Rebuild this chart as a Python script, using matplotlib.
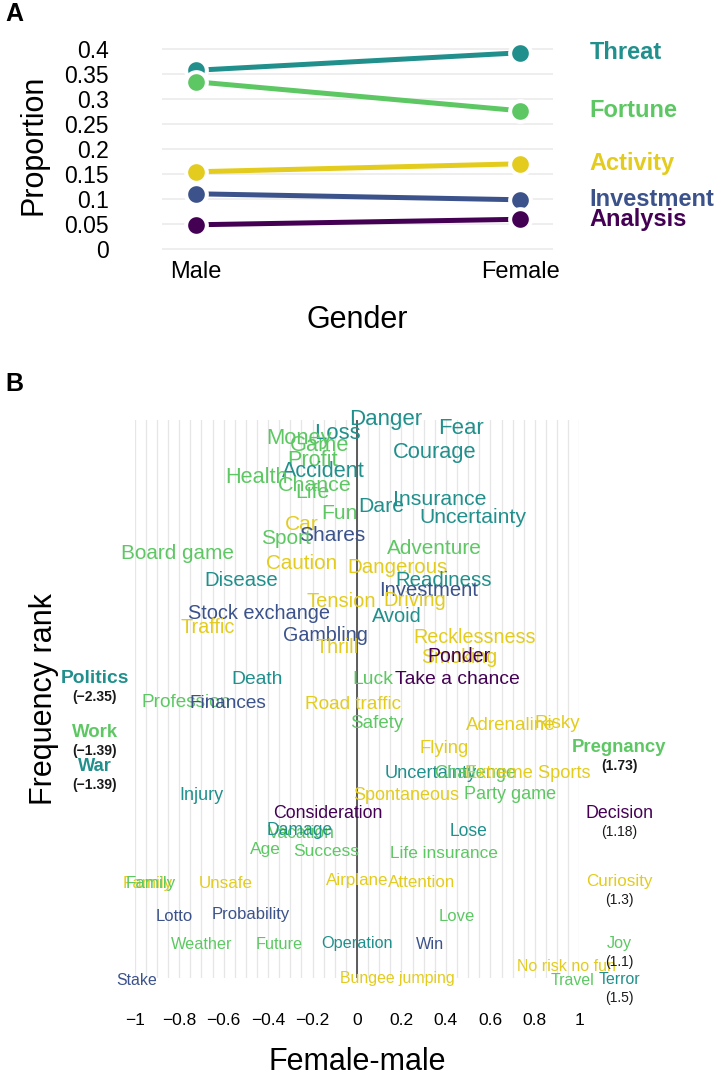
import numpy as np
import matplotlib.pyplot as plt

plt.rcParams['font.family'] = ['Liberation Sans', 'DejaVu Sans']

# ---- panel A: proportion of each category by gender
genders = ["Male", "Female"]
categories = ["Threat", "Fortune", "Activity", "Investment", "Analysis"]
cat_colors = ["#21908C", "#5DC863", "#E3CC1E", "#3B528B", "#440154"]
prop_male = [0.358, 0.335, 0.155, 0.111, 0.049]
prop_female = [0.393, 0.277, 0.171, 0.099, 0.060]

# ---- panel B: words, category, female-male difference, frequency rank
words = ["Danger", "Fear", "Loss", "Money", "Game", "Courage", "Profit", "Accident",
         "Health", "Chance", "Life", "Insurance", "Dare", "Fun", "Uncertainty", "Car",
         "Shares", "Sport", "Adventure", "Board game", "Caution", "Dangerous", "Disease",
         "Readiness", "Investment", "Driving", "Tension", "Stock exchange", "Avoid",
         "Traffic", "Gambling", "Recklessness", "Thrill", "Smoking", "Ponder", "Death",
         "Luck", "Take a chance", "Profession", "Finances", "Road traffic", "Safety",
         "Adrenaline", "Risky", "Flying", "Uncertainty", "Challenge", "Extreme Sports",
         "Injury", "Spontaneous", "Party game", "Consideration", "Vacation", "Damage",
         "Lose", "Age", "Success", "Life insurance", "Family", "Family", "Unsafe",
         "Airplane", "Attention", "Lotto", "Probability", "Love", "Weather", "Future",
         "Operation", "Win", "No risk no fun", "Stake", "Bungee jumping", "Travel",
         "Politics", "Work", "War", "Pregnancy", "Decision", "Curiosity", "Joy", "Terror"]
word_cat = ["Threat", "Threat", "Threat", "Fortune", "Fortune", "Threat", "Fortune", "Threat",
            "Fortune", "Fortune", "Fortune", "Threat", "Threat", "Fortune", "Threat", "Activity",
            "Investment", "Fortune", "Fortune", "Fortune", "Activity", "Activity", "Threat",
            "Threat", "Investment", "Activity", "Activity", "Investment", "Threat",
            "Activity", "Investment", "Activity", "Activity", "Activity", "Analysis", "Threat",
            "Fortune", "Analysis", "Fortune", "Investment", "Activity", "Fortune",
            "Activity", "Activity", "Activity", "Threat", "Fortune", "Activity",
            "Threat", "Activity", "Fortune", "Analysis", "Fortune", "Threat",
            "Threat", "Fortune", "Fortune", "Fortune", "Activity", "Fortune", "Activity",
            "Activity", "Activity", "Investment", "Investment", "Fortune", "Fortune", "Fortune",
            "Threat", "Investment", "Activity", "Investment", "Activity", "Fortune",
            "Threat", "Fortune", "Threat", "Fortune", "Analysis", "Activity", "Fortune", "Threat"]
diff = [0.13, 0.47, -0.09, -0.26, -0.17, 0.35, -0.20, -0.15,
        -0.45, -0.19, -0.20, 0.37, 0.11, -0.08, 0.52, -0.25,
        -0.11, -0.32, 0.35, -0.81, -0.25, 0.18, -0.52,
        0.39, 0.32, 0.26, -0.07, -0.44, 0.18,
        -0.67, -0.14, 0.53, -0.09, 0.46, 0.46, -0.45,
        0.07, 0.45, -0.77, -0.58, -0.02, 0.09,
        0.69, 0.90, 0.39, 0.33, 0.53, 0.77,
        -0.70, 0.22, 0.69, -0.13, -0.25, -0.26,
        0.50, -0.41, -0.14, 0.39, -0.94, -0.93, -0.59,
        0.00, 0.29, -0.82, -0.48, 0.45, -0.70, -0.35,
        0.00, 0.33, 0.94, -0.99, 0.18, 0.97,
        -2.35, -1.39, -1.39, 1.73, 1.18, 1.3, 1.1, 1.5]
rank = [0.9, 1.8, 2.3, 2.8, 3.5, 4.2, 5.0, 6.1,
        6.7, 7.5, 8.2, 8.9, 9.6, 10.3, 10.7, 11.4,
        12.5, 12.8, 13.8, 14.3, 15.3, 15.7, 17.0,
        17.0, 18.0, 19.0, 19.1, 20.3, 20.6,
        21.7, 22.5, 22.7, 23.7, 24.7, 24.6, 26.9,
        26.9, 26.9, 29.2, 29.3, 29.4, 31.3,
        31.5, 31.3, 33.8, 36.3, 36.3, 36.3,
        38.5, 38.5, 38.4, 40.3, 42.3, 42.0,
        42.1, 43.9, 44.1, 44.3, 47.3, 47.3, 47.3,
        47.0, 47.2, 50.6, 50.4, 50.6, 53.4, 53.4,
        53.3, 53.4, 55.6, 57.0, 56.8, 57.0,
        26.8, 32.2, 35.6, 33.7, 40.3, 47.1, 53.3, 56.9]
bold_words = ["Politics", "Work", "War", "Pregnancy"]

color_of = dict(zip(categories, cat_colors))


def fmt(v):
    return f"{v:g}".replace('-', '\u2212')


fig = plt.figure(figsize=(7.2, 10.79), dpi=100)

# ---------------- panel A
axA = fig.add_axes([0.2246, 0.7597, 0.543, 0.2039])
xs = [1, 2]
for cat, col, m, f in zip(categories, cat_colors, prop_male, prop_female):
    axA.plot(xs, [m, f], color=col, lw=3.6, solid_capstyle='round', zorder=2)
    axA.plot(xs, [m, f], 'o', ms=14.9, mfc=col, mec='white', mew=2.9, zorder=3)
    axA.text(2.213, f, cat, color=col, fontsize=17, fontweight='bold',
             ha='left', va='center', clip_on=False)

axA.set_xlim(0.895, 2.1)
axA.set_ylim(-0.02, 0.42)
yt = np.round(np.arange(0, 0.41, 0.05), 2)
axA.set_yticks(yt, [f"{v:g}" for v in yt])
axA.set_xticks(xs, genders)
axA.grid(axis='y', color='#EBEBEB', lw=1.2)
axA.set_axisbelow(True)
for s in axA.spines.values():
    s.set_visible(False)
axA.tick_params(axis='y', length=0, labelsize=16.5, pad=38)
axA.tick_params(axis='x', length=0, labelsize=17, pad=1)
axA.set_ylabel("Proportion", fontsize=22)
axA.yaxis.set_label_coords(-0.29, 0.52)
axA.set_xlabel("Gender", fontsize=22)
axA.xaxis.set_label_coords(0.5, -0.21)

# ---------------- panel B
axB = fig.add_axes([0.1871, 0.0936, 0.6175, 0.5171])
axB.set_xlim(-1, 1)
axB.set_ylim(56.8, 1.0)
xt = np.round(np.arange(-1, 1.01, 0.2), 1) + 0.0
axB.set_xticks(xt, [fmt(v) for v in xt])
axB.set_xticks(np.round(np.arange(-1, 1.001, 0.05), 2), minor=True)
axB.grid(axis='x', which='both', color='#E6E6E6', lw=0.9)
axB.set_axisbelow(True)
axB.set_yticks([])
for s in axB.spines.values():
    s.set_visible(False)
axB.tick_params(axis='x', which='both', length=0, labelsize=12.5, pad=25)
axB.axvline(0, color='#505050', lw=1.3, zorder=1)

for w, c, d, r in zip(words, word_cat, diff, rank):
    col = color_of[c]
    fs = 16 - (r - 1) / 55 * 4.5
    if abs(d) <= 1:
        axB.text(d, r, w, color=col, fontsize=fs, ha='center', va='center', clip_on=False)
    else:
        bw = 'bold' if w in bold_words else 'normal'
        xo = 1.18 * np.sign(d)
        axB.text(xo, r, w, color=col, fontsize=fs, fontweight=bw,
                 ha='center', va='center', clip_on=False)
        axB.text(xo, r + 1.85, "(" + fmt(d) + ")",
                 color='#1A1A1A', fontsize=10, fontweight=bw,
                 ha='center', va='center', clip_on=False)

axB.set_xlabel("Female-male", fontsize=22)
axB.xaxis.set_label_coords(0.5, -0.124)
axB.set_ylabel("Frequency rank", fontsize=22)
axB.yaxis.set_label_coords(-0.17, 0.5)

fig.text(5 / 720, 1 - 2 / 1079, "A", fontsize=18, fontweight='bold', ha='left', va='top')
fig.text(5 / 720, 1 - 372 / 1079, "B", fontsize=18, fontweight='bold', ha='left', va='top')

fig.savefig("out.png", dpi=100)
